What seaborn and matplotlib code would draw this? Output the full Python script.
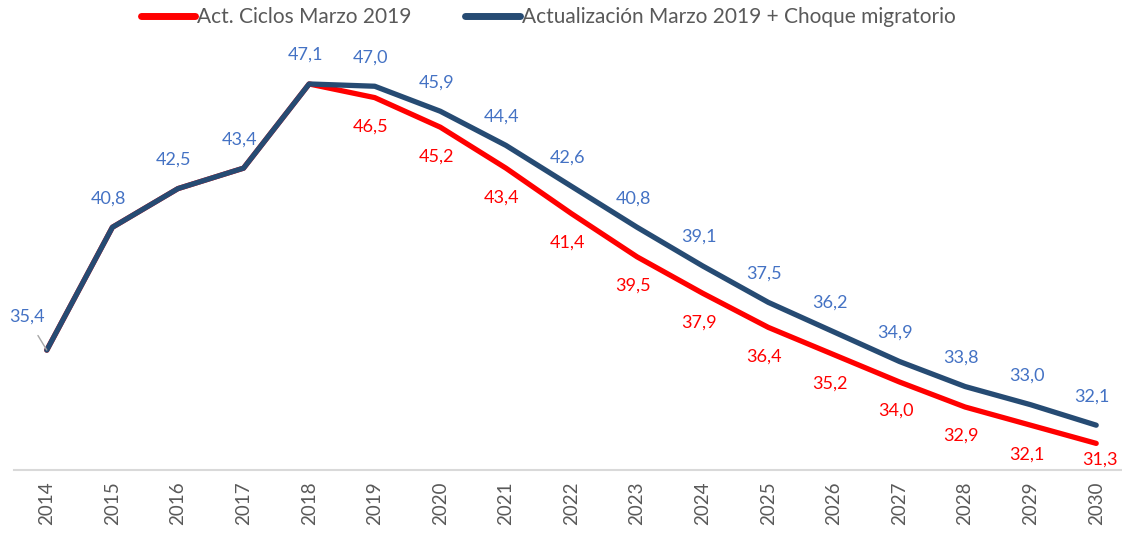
import pandas as pd
import seaborn as sns
import matplotlib.pyplot as plt

years = list(range(2014, 2031))
ciclos = [35.4, 40.8, 42.5, 43.4, 47.1, 46.5, 45.2, 43.4, 41.4, 39.5,
          37.9, 36.4, 35.2, 34.0, 32.9, 32.1, 31.3]
choque = [35.4, 40.8, 42.5, 43.4, 47.1, 47.0, 45.9, 44.4, 42.6, 40.8,
          39.1, 37.5, 36.2, 34.9, 33.8, 33.0, 32.1]
name_red = 'Act. Ciclos Marzo 2019'
name_blue = 'Actualización Marzo 2019 + Choque migratorio'

df = pd.DataFrame({
    'Año': [str(y) for y in years] * 2,
    'Valor': ciclos + choque,
    'Serie': [name_red] * len(years) + [name_blue] * len(years),
})

sns.set_theme(style='white')
plt.rcParams['font.family'] = ['Lato', 'DejaVu Sans']

fig = plt.figure(figsize=(11.22, 5.33), dpi=100)
ax = fig.add_axes([14 / 1122, 63 / 533, 1115 / 1122, 452 / 533])

red = '#FF0000'
navy = '#264B73'
sns.lineplot(data=df, x='Año', y='Valor', hue='Serie', sort=False,
             palette={name_red: red, name_blue: navy}, linewidth=3.8,
             ax=ax, legend=True)
for ln in ax.lines:
    ln.set_solid_capstyle('round')
    ln.set_solid_joinstyle('round')

ax.set_xlim(-0.5, 16.5)
ax.set_ylim(30.13, 50.0)
ax.set_xlabel('')
ax.set_ylabel('')
ax.set_yticks([])
for s in ['top', 'right', 'left']:
    ax.spines[s].set_visible(False)
ax.spines['bottom'].set_color('#D9D9D9')
ax.spines['bottom'].set_linewidth(1.5)
ax.tick_params(axis='x', length=0, labelsize=13.5, labelcolor='#595959',
               rotation=90, pad=8)

# value labels
lbl_blue = '#4472C4'
for i, v in enumerate(choque):
    txt = f'{v:.1f}'.replace('.', ',')
    if i == 0:
        ax.annotate(txt, (i, v), xytext=(-20, 33), textcoords='offset pixels',
                    ha='center', va='center', fontsize=13, color=lbl_blue,
                    arrowprops=dict(arrowstyle='-', color='#A6A6A6', lw=1,
                                    shrinkA=6, shrinkB=0))
    else:
        ax.annotate(txt, (i, v), xytext=(-4, 29), textcoords='offset pixels',
                    ha='center', va='center', fontsize=13, color=lbl_blue)
for i, v in enumerate(ciclos):
    if i < 5:
        continue
    txt = f'{v:.1f}'.replace('.', ',')
    off = (4, -16) if i == len(ciclos) - 1 else (-4, -29)
    ax.annotate(txt, (i, v), xytext=off, textcoords='offset pixels',
                ha='center', va='center', fontsize=13, color=red)

leg = ax.legend(loc='upper center', bbox_to_anchor=(0.479, 1.065), ncol=2,
                frameon=False, fontsize=15, handlelength=2.6,
                handletextpad=0.1, columnspacing=2.6)
for t in leg.get_texts():
    t.set_color('#595959')
for h in leg.get_lines():
    h.set_linewidth(5)
    h.set_solid_capstyle('round')

fig.savefig('out.png', dpi=100)
